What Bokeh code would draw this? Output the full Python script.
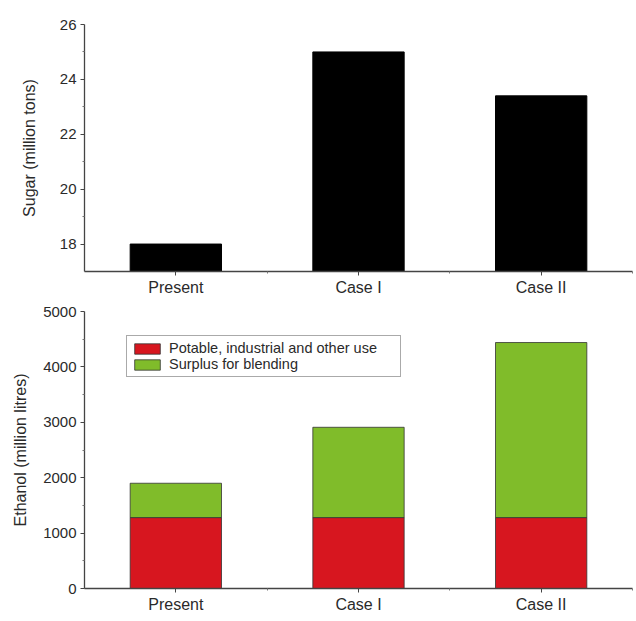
import numpy as np
from bokeh.plotting import figure
from bokeh.models import Range1d, FixedTicker, Legend, LegendItem, ColumnDataSource
from bokeh.layouts import column
from bokeh.embed import file_html
from bokeh.resources import INLINE

# ---- data ----
categories = ["Present", "Case I", "Case II"]
sugar = [18.0, 25.0, 23.4]              # million tons
potable = [1280, 1280, 1280]            # million litres
surplus = [620, 1630, 3160]             # million litres (stacked on potable)
sugar_ticks = [18, 20, 22, 24, 26]
sugar_minor = [19, 21, 23, 25]
ethanol_ticks = [0, 1000, 2000, 3000, 4000, 5000]
ethanol_minor = [500, 1500, 2500, 3500, 4500]
sugar_axis = (17, 26)
ethanol_axis = (0, 5000)

RED = "#d7161f"
GREEN = "#80bc2a"
FONT = "Liberation Sans"
TXT = "#2a2a2a"

xpos = list(np.arange(len(categories)) + 1.0)
xminor = [v + 0.5 for v in xpos]
overrides = {x: c for x, c in zip(xpos, categories)}


def style(p, ylabel, yticks, yminor, standoff):
    p.xgrid.visible = False
    p.ygrid.visible = False
    p.outline_line_color = None
    p.xaxis.ticker = FixedTicker(ticks=xpos, minor_ticks=xminor)
    p.xaxis.major_label_overrides = overrides
    p.yaxis.ticker = FixedTicker(ticks=yticks, minor_ticks=yminor)
    p.yaxis.axis_label = ylabel
    for ax in (p.xaxis[0], p.yaxis[0]):
        ax.axis_line_color = "#444444"
        ax.axis_line_width = 1.3
        ax.major_tick_line_color = "#444444"
        ax.minor_tick_line_color = "#777777"
        ax.major_tick_out = 4
        ax.major_tick_in = 0
        ax.minor_tick_out = 2
        ax.minor_tick_in = 0
        ax.major_label_text_font = FONT
        ax.major_label_text_color = TXT
        ax.axis_label_text_font = FONT
        ax.axis_label_text_color = TXT
        ax.axis_label_text_font_style = "normal"
        ax.axis_label_text_font_size = "16px"
    p.xaxis.major_label_text_font_size = "16px"
    p.yaxis.major_label_text_font_size = "15px"
    p.xaxis.major_label_standoff = 3
    p.yaxis.major_label_standoff = 4
    p.yaxis.axis_label_standoff = standoff


# ---- top: sugar ----
p1 = figure(width=636, height=300, output_backend="svg", toolbar_location=None,
            x_range=Range1d(0.5, 3.5), y_range=Range1d(*sugar_axis),
            min_border_left=84, min_border_right=4, min_border_top=24, min_border_bottom=29)
src1 = ColumnDataSource(dict(x=xpos, top=sugar))
p1.vbar(x="x", top="top", bottom=sugar_axis[0], width=0.5, source=src1,
        fill_color="black", line_color="black")
style(p1, "Sugar (million tons)", sugar_ticks, sugar_minor, 19)

# ---- bottom: ethanol ----
p2 = figure(width=636, height=320, output_backend="svg", toolbar_location=None,
            x_range=Range1d(0.5, 3.5), y_range=Range1d(*ethanol_axis),
            min_border_left=84, min_border_right=4, min_border_top=11, min_border_bottom=32)
src2 = ColumnDataSource(dict(x=xpos, potable=potable, surplus=surplus))
rs = p2.vbar_stack(["potable", "surplus"], x="x", width=0.5, source=src2,
                   fill_color=[RED, GREEN], line_color="#333333", line_width=0.8)
style(p2, "Ethanol (million litres)", ethanol_ticks, ethanol_minor, 11)

legend = Legend(items=[LegendItem(label="Potable, industrial and other use", renderers=[rs[0]]),
                       LegendItem(label="Surplus for blending", renderers=[rs[1]])],
                location=(42, 211))
legend.label_text_font = FONT
legend.label_text_font_size = "14.5px"
legend.label_text_color = TXT
legend.glyph_width = 32
legend.glyph_height = 13
legend.label_standoff = 6
legend.padding = 4
legend.spacing = 0
legend.label_width = 227
legend.label_height = 16
legend.border_line_color = "#555555"
legend.border_line_width = 1
legend.background_fill_alpha = 1.0
p2.add_layout(legend)

layout = column(p1, p2, spacing=0)
open("out.html", "w").write(file_html(layout, INLINE))
